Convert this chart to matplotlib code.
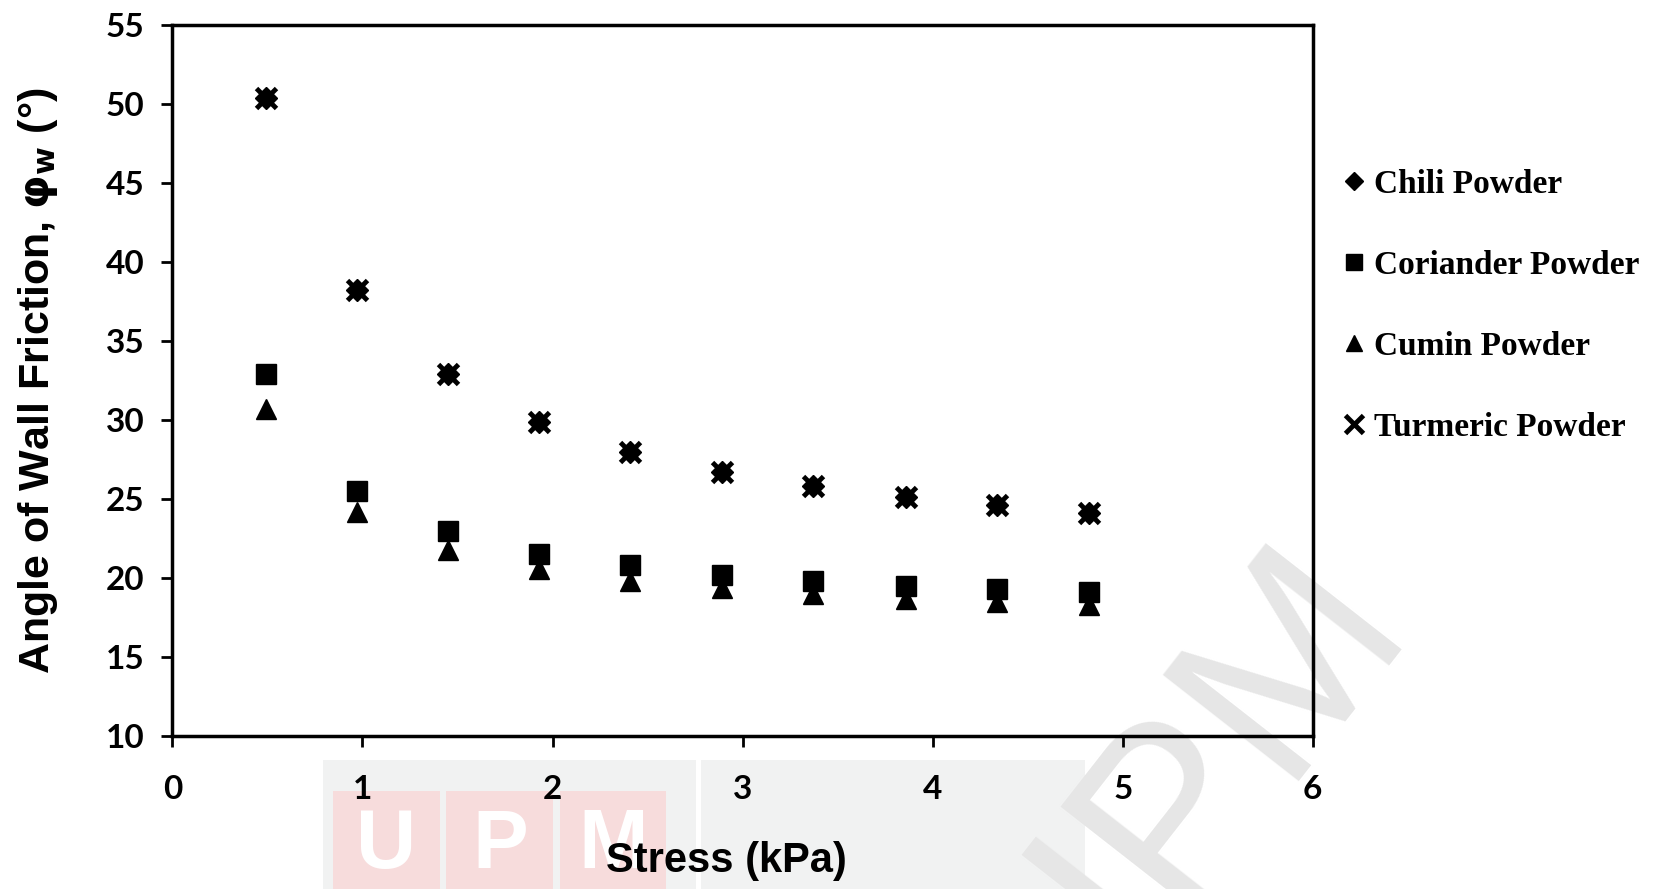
import matplotlib
matplotlib.use('Agg')
import matplotlib.pyplot as plt
from matplotlib.patches import Rectangle

# valores
stress = [0.49, 0.97, 1.45, 1.93, 2.41, 2.89, 3.37, 3.86, 4.34, 4.82]
chili = [50.4, 38.2, 32.9, 29.9, 28.0, 26.7, 25.8, 25.1, 24.6, 24.1]
coriander = [32.9, 25.5, 23.0, 21.5, 20.8, 20.2, 19.8, 19.5, 19.3, 19.1]
cumin = [30.7, 24.2, 21.8, 20.6, 19.8, 19.4, 19.0, 18.7, 18.5, 18.3]
turmeric = [50.4, 38.2, 32.9, 29.9, 28.0, 26.7, 25.8, 25.1, 24.6, 24.1]
labels = ['Chili Powder', 'Coriander Powder', 'Cumin Powder', 'Turmeric Powder']
xticks = [0, 1, 2, 3, 4, 5, 6]
yticks = [10, 15, 20, 25, 30, 35, 40, 45, 50, 55]

fig = plt.figure(figsize=(16.66, 8.89), dpi=100)
fig.patch.set_facecolor('white')

# marca de agua de fondo (cajas grises y letras UPM), debajo de todo
fig.patches.append(Rectangle((0.194, 0.0), 0.224, 0.145, transform=fig.transFigure,
                             facecolor='#f1f2f2', edgecolor='none', zorder=-5))
fig.patches.append(Rectangle((0.421, 0.0), 0.230, 0.145, transform=fig.transFigure,
                             facecolor='#f1f2f2', edgecolor='none', zorder=-5))
for i, letra in enumerate('UPM'):
    x0 = 0.200 + i * 0.068
    fig.patches.append(Rectangle((x0, 0.0), 0.064, 0.11, transform=fig.transFigure,
                                 facecolor='#f7dcdc', edgecolor='none', zorder=-5))
    fig.text(x0 + 0.032, 0.004, letra, color='white', fontsize=60, fontweight='bold',
             family='Liberation Sans', ha='center', va='bottom', zorder=-4)
fig.text(0.712, 0.105, 'UPM', color='#e6e6e6', fontsize=180, rotation=52,
         rotation_mode='anchor', family='Liberation Sans', ha='center', va='center', zorder=-4)

ax = fig.add_axes([0.1035, 0.172, 0.6845, 0.800])
ax.patch.set_alpha(0)

ax.plot(stress, chili, linestyle='none', marker='D', markersize=11, color='black', label=labels[0])
ax.plot(stress, coriander, linestyle='none', marker='s', markersize=14, color='black', label=labels[1])
ax.plot(stress, cumin, linestyle='none', marker='^', markersize=14, color='black', label=labels[2])
ax.plot(stress, turmeric, linestyle='none', marker='x', markersize=15, markeredgewidth=3.5,
        color='black', label=labels[3])

ax.set_xlim(0, 6)
ax.set_ylim(10, 55)
ax.set_xticks(xticks)
ax.set_yticks(yticks)
for s in ax.spines.values():
    s.set_linewidth(2.5)
ax.tick_params(direction='out', length=8, width=2, labelsize=24)
ax.tick_params(axis='x', pad=20)
ax.tick_params(axis='y', pad=12)
for t in ax.get_xticklabels() + ax.get_yticklabels():
    t.set_fontfamily('Lato')
    t.set_fontweight('bold')

ax.set_xlabel('Stress (kPa)', fontsize=30, fontweight='bold', family='Liberation Sans')
ax.xaxis.set_label_coords(0.486, -0.176)
ax.xaxis.label.set_verticalalignment('center')
ax.set_ylabel(r'Angle of Wall Friction, $\mathbf{\varphi_w}$ (°)', fontsize=31, fontweight='bold',
              family='Liberation Sans')
ax.yaxis.set_label_coords(-0.118, 0.5)
ax.yaxis.label.set_verticalalignment('center')

ax.legend(loc='upper left', bbox_to_anchor=(1.001, 0.84), frameon=False, handlelength=0.6,
          handletextpad=0.3, labelspacing=1.5, markerscale=0.85,
          prop={'family': 'Liberation Serif', 'size': 24, 'weight': 'bold'})

fig.savefig('out.png', dpi=100)
